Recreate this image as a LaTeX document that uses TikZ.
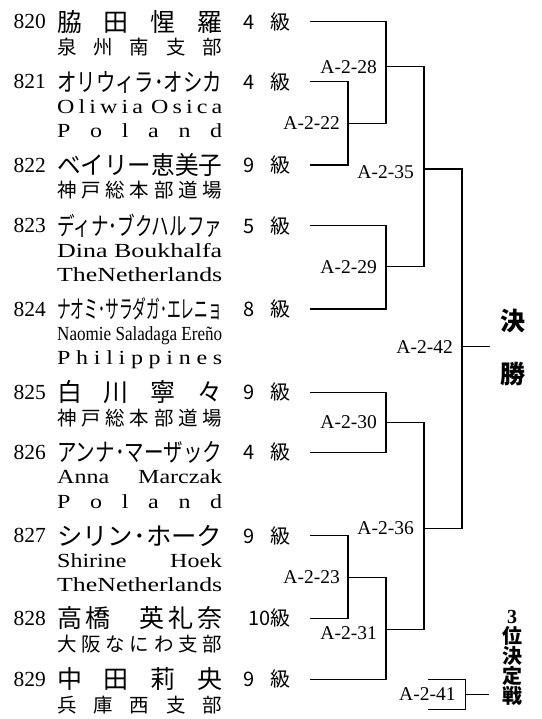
\documentclass[tikz,border=0pt]{standalone}
\usepackage{fontspec}
\usepackage{graphicx}
\setmainfont{Liberation Serif}
\newfontfamily\jp{Noto Sans CJK JP}
\newfontfamily\subrm[FakeStretch=1.2]{Liberation Serif}
\usetikzlibrary{positioning}
\newlength{\namew}\setlength{\namew}{165pt}
\newcommand{\fitw}[1]{\resizebox{\namew}{\height}{#1}}
\newcommand{\spreadw}[1]{\makebox[\namew][s]{#1}}

\begin{document}
\begin{tikzpicture}[x=1pt,y=1pt,
  numtag/.style={inner sep=0pt,anchor=east,font=\fontsize{21.5}{21.5}\selectfont},
  namebox/.style={inner sep=0pt,text height=22pt,text depth=3pt,font=\jp\fontsize{25}{25}\selectfont},
  jsub/.style={inner sep=0pt,text height=17pt,text depth=2pt,font=\jp\fontsize{19.5}{19.5}\selectfont},
  esub/.style={inner sep=0pt,text height=15.5pt,text depth=3.5pt,font=\subrm\fontsize{20}{20}\selectfont},
  gradebox/.style={inner sep=0pt,font=\jp\fontsize{20}{20}\selectfont},
  matchlbl/.style={inner sep=0pt,font=\fontsize{19.5}{19.5}\selectfont},
  bline/.style={line width=1.2pt},
  finaltxt/.style={inner sep=0pt,font=\jp\bfseries\fontsize{25}{25}\selectfont}]
  \useasboundingbox (0,0) rectangle (541,-719);
  % players
  \node[numtag] (k820) at (46,-21.7) {820};
  \node[namebox,right=11pt of k820] (n820) {\spreadw{脇\hfill 田\hfill 惺\hfill 羅}};
  \node[gradebox,right=21pt of n820] (g820) {\makebox[47pt][s]{4\hfill 級}};
  \node[jsub,below=3pt of n820.south west,anchor=north west] (s820) {\spreadw{泉\hfill 州\hfill 南\hfill 支\hfill 部}};

  \node[numtag] (k821) at (46,-81.7) {821};
  \node[namebox,right=11pt of k821] (n821) {\fitw{オリウィラ･オシカ}};
  \node[gradebox,right=21pt of n821] (g821) {\makebox[47pt][s]{4\hfill 級}};
  \node[esub,below=3pt of n821.south west,anchor=north west] (s821a) {\spreadw{O\hfill l\hfill i\hfill w\hfill i\hfill a\hfill\hfill O\hfill s\hfill i\hfill c\hfill a}};
  \node[esub,below=5pt of s821a.south west,anchor=north west] (s821b) {\spreadw{P\hfill o\hfill l\hfill a\hfill n\hfill d}};

  \node[numtag] (k822) at (46,-165) {822};
  \node[namebox,right=11pt of k822] (n822) {\fitw{ベイリー恵美子}};
  \node[gradebox,right=21pt of n822] (g822) {\makebox[47pt][s]{9\hfill 級}};
  \node[jsub,below=3pt of n822.south west,anchor=north west] (s822) {\spreadw{神\hfill 戸\hfill 総\hfill 本\hfill 部\hfill 道\hfill 場}};

  \node[numtag] (k823) at (46,-225.7) {823};
  \node[namebox,right=11pt of k823] (n823) {\fitw{ディナ･ブクハルファ}};
  \node[gradebox,right=21pt of n823] (g823) {\makebox[47pt][s]{5\hfill 級}};
  \node[esub,below=3pt of n823.south west,anchor=north west] (s823a) {\fitw{Dina Boukhalfa}};
  \node[esub,below=5pt of s823a.south west,anchor=north west] (s823b) {\fitw{TheNetherlands}};

  \node[numtag] (k824) at (46,-309) {824};
  \node[namebox,right=11pt of k824] (n824) {\fitw{ナオミ･サラダガ･エレニョ}};
  \node[gradebox,right=21pt of n824] (g824) {\makebox[47pt][s]{8\hfill 級}};
  \node[esub,below=3pt of n824.south west,anchor=north west] (s824a) {\fitw{Naomie Saladaga Ereño}};
  \node[esub,below=5pt of s824a.south west,anchor=north west] (s824b) {\spreadw{P\hfill h\hfill i\hfill l\hfill i\hfill p\hfill p\hfill i\hfill n\hfill e\hfill s}};

  \node[numtag] (k825) at (46,-392.3) {825};
  \node[namebox,right=11pt of k825] (n825) {\spreadw{白\hfill 川\hfill 寧\hfill 々}};
  \node[gradebox,right=21pt of n825] (g825) {\makebox[47pt][s]{9\hfill 級}};
  \node[jsub,below=3pt of n825.south west,anchor=north west] (s825) {\spreadw{神\hfill 戸\hfill 総\hfill 本\hfill 部\hfill 道\hfill 場}};

  \node[numtag] (k826) at (46,-452.3) {826};
  \node[namebox,right=11pt of k826] (n826) {\fitw{アンナ･マーザック}};
  \node[gradebox,right=21pt of n826] (g826) {\makebox[47pt][s]{4\hfill 級}};
  \node[esub,below=3pt of n826.south west,anchor=north west] (s826a) {\spreadw{Anna\hfill Marczak}};
  \node[esub,below=5pt of s826a.south west,anchor=north west] (s826b) {\spreadw{P\hfill o\hfill l\hfill a\hfill n\hfill d}};

  \node[numtag] (k827) at (46,-535.7) {827};
  \node[namebox,right=11pt of k827] (n827) {\fitw{シリン･ホーク}};
  \node[gradebox,right=21pt of n827] (g827) {\makebox[47pt][s]{9\hfill 級}};
  \node[esub,below=3pt of n827.south west,anchor=north west] (s827a) {\spreadw{Shirine\hfill Hoek}};
  \node[esub,below=5pt of s827a.south west,anchor=north west] (s827b) {\fitw{TheNetherlands}};

  \node[numtag] (k828) at (46,-618.3) {828};
  \node[namebox,right=11pt of k828] (n828) {\spreadw{高\hspace{3pt}橋\hfill 英\hspace{4pt}礼\hspace{4pt}奈}};
  \node[gradebox,right=21pt of n828] (g828) {\makebox[47pt][r]{10級}};
  \node[jsub,below=3pt of n828.south west,anchor=north west] (s828) {\spreadw{大\hfill 阪\hfill な\hfill に\hfill わ\hfill 支\hfill 部}};

  \node[numtag] (k829) at (46,-679.3) {829};
  \node[namebox,right=11pt of k829] (n829) {\spreadw{中\hfill 田\hfill 莉\hfill 央}};
  \node[gradebox,right=21pt of n829] (g829) {\makebox[47pt][s]{9\hfill 級}};
  \node[jsub,below=3pt of n829.south west,anchor=north west] (s829) {\spreadw{兵\hfill 庫\hfill 西\hfill 支\hfill 部}};

  % bracket points
  \coordinate (p820) at (310,-21.7);  \coordinate (p821) at (310,-81.7);
  \coordinate (p822) at (310,-165);   \coordinate (p823) at (310,-225.7);
  \coordinate (p824) at (310,-309);   \coordinate (p825) at (310,-392.3);
  \coordinate (p826) at (310,-452.3); \coordinate (p827) at (310,-535.7);
  \coordinate (p828) at (310,-618.3); \coordinate (p829) at (310,-679.3);
  \coordinate (m22) at (348,-123.3);  \coordinate (m28) at (386,-66.7);
  \coordinate (m29) at (386,-266.7);  \coordinate (m35) at (424,-169);
  \coordinate (m30) at (386,-422.3);  \coordinate (m23) at (348,-577.3);
  \coordinate (m31) at (386,-629.3);  \coordinate (m36) at (424,-528.3);
  \coordinate (m42) at (462,-346.7);  \coordinate (win) at (490,-346.7);
  \coordinate (t1) at (428.3,-679.3); \coordinate (t2) at (428.3,-709.3);
  \coordinate (m41) at (465.7,-694.3); \coordinate (third) at (489,-694.3);

  \draw[bline] (p821) -| (m22) |- (p822);
  \draw[bline] (p820) -| (m28) |- (m22);
  \draw[bline] (p823) -| (m29) |- (p824);
  \draw[bline] (m28) -| (m35) |- (m29);
  \draw[bline] (p825) -| (m30) |- (p826);
  \draw[bline] (p827) -| (m23) |- (p828);
  \draw[bline] (m23) -| (m31) |- (p829);
  \draw[bline] (m30) -| (m36) |- (m31);
  \draw[bline] (m35) -| (m42) |- (m36);
  \draw[bline] (m42) -- (win);
  \draw[bline] (t1) -| (m41) |- (t2);
  \draw[bline] (m41) -- (third);

  % match labels
  \node[matchlbl,left=8pt of m22] (l22) {A-2-22};
  \node[matchlbl,left=9pt of m28] (l28) {A-2-28};
  \node[matchlbl,left=10pt of m35,yshift=-3pt] (l35) {A-2-35};
  \node[matchlbl,left=9pt of m29] (l29) {A-2-29};
  \node[matchlbl,left=9pt of m42] (l42) {A-2-42};
  \node[matchlbl,left=9pt of m30] (l30) {A-2-30};
  \node[matchlbl,left=10pt of m36] (l36) {A-2-36};
  \node[matchlbl,left=8pt of m23] (l23) {A-2-23};
  \node[matchlbl,left=9pt of m31,yshift=-3.5pt] (l31) {A-2-31};
  \node[matchlbl,left=10pt of m41] (l41) {A-2-41};

  % titles
  \node[finaltxt] (ket1) at (513,-321) {決};
  \node[finaltxt,below=29pt of ket1] (ket2) {勝};
  \node[finaltxt,align=center,font=\jp\bfseries\fontsize{20}{20}\selectfont] (san) at (512,-658) {{\rmfamily 3}\\位\\決\\定\\戦};
\end{tikzpicture}
\end{document}
